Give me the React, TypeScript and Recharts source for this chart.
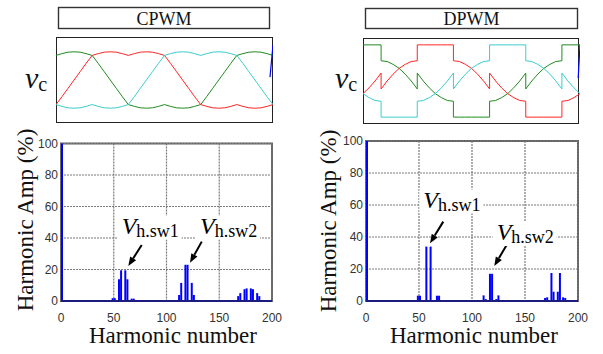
import {
  LineChart,
  Line,
  BarChart,
  Bar,
  XAxis,
  YAxis,
  CartesianGrid,
  ReferenceLine,
  ReferenceDot,
} from "recharts";

const SERIF = "Liberation Serif, DejaVu Serif, serif";
const SANS = "Liberation Sans, Arial, sans-serif";

const RED = "#ff2424";
const GREEN = "#1e8c1e";
const CYAN = "#3ccccc";
const BLUE = "#0000ff";

// modulating signals over one fundamental period (electrical degrees)
const cpwmAngle = [
  0, 10, 20, 30, 40, 50, 60, 70, 80, 90, 100, 110, 120, 130, 140, 150, 160, 170, 180,
  190, 200, 210, 220, 230, 240, 250, 260, 270, 280, 290, 300, 310, 320, 330, 340, 350, 360,
];
const cpwmGreen = [
  0.68, 0.73, 0.77, 0.78, 0.77, 0.73, 0.68, 0.46, 0.23, 0, -0.23, -0.46, -0.68, -0.73, -0.77,
  -0.78, -0.77, -0.73, -0.68, -0.73, -0.77, -0.78, -0.77, -0.73, -0.68, -0.46, -0.23, 0, 0.23,
  0.46, 0.68, 0.73, 0.77, 0.78, 0.77, 0.73, 0.68,
];
const cpwmRed = [
  -0.68, -0.46, -0.23, 0, 0.23, 0.46, 0.68, 0.73, 0.77, 0.78, 0.77, 0.73, 0.68, 0.73, 0.77,
  0.78, 0.77, 0.73, 0.68, 0.46, 0.23, 0, -0.23, -0.46, -0.68, -0.73, -0.77, -0.78, -0.77,
  -0.73, -0.68, -0.73, -0.77, -0.78, -0.77, -0.73, -0.68,
];
const cpwmCyan = [
  -0.68, -0.73, -0.77, -0.78, -0.77, -0.73, -0.68, -0.73, -0.77, -0.78, -0.77, -0.73, -0.68,
  -0.46, -0.23, 0, 0.23, 0.46, 0.68, 0.73, 0.77, 0.78, 0.77, 0.73, 0.68, 0.73, 0.77, 0.78,
  0.77, 0.73, 0.68, 0.46, 0.23, 0, -0.23, -0.46, -0.68,
];

// DPWM: clamped 60 deg segments, repeated angles are the jumps
const dpwmAngle = [
  0, 10, 20, 30, 30, 40, 50, 60, 70, 80, 90, 90, 100, 110, 120, 130, 140, 150, 150, 160, 170,
  180, 190, 200, 210, 210, 220, 230, 240, 250, 260, 270, 270, 280, 290, 300, 310, 320, 330,
  330, 340, 350, 360,
];
const dpwmGreen = [
  1, 1, 1, 1, 0.56, 0.54, 0.46, 0.35, 0.19, 0, -0.22, 0.22, 0, -0.19, -0.35, -0.46, -0.54,
  -0.56, -1, -1, -1, -1, -1, -1, -1, -0.56, -0.54, -0.46, -0.35, -0.19, 0, 0.22, -0.22, 0,
  0.19, 0.35, 0.46, 0.54, 0.56, 1, 1, 1, 1,
];
const dpwmRed = [
  -0.35, -0.19, 0, 0.22, -0.22, 0, 0.19, 0.35, 0.46, 0.54, 0.56, 1, 1, 1, 1, 1, 1, 1, 0.56,
  0.54, 0.46, 0.35, 0.19, 0, -0.22, 0.22, 0, -0.19, -0.35, -0.46, -0.54, -0.56, -1, -1, -1,
  -1, -1, -1, -1, -0.56, -0.54, -0.46, -0.35,
];
const dpwmCyan = [
  -0.35, -0.46, -0.54, -0.56, -1, -1, -1, -1, -1, -1, -1, -0.56, -0.54, -0.46, -0.35, -0.19,
  0, 0.22, -0.22, 0, 0.19, 0.35, 0.46, 0.54, 0.56, 1, 1, 1, 1, 1, 1, 1, 0.56, 0.54, 0.46,
  0.35, 0.19, 0, -0.22, 0.22, 0, -0.19, -0.35,
];

// harmonic spectra, % of fundamental
const cpwmOrder = [
  1, 43, 49, 51, 55, 57, 61, 63, 67, 69, 73, 112, 114, 118, 120, 124, 126, 168, 170, 174, 176,
  180, 182, 186, 188,
];
const cpwmAmp = [
  100, 0.5, 1.8, 1.8, 13.8, 19.5, 19.5, 13.8, 1.5, 1.5, 0.5, 3.8, 11.5, 23, 23, 11.5, 3.8, 3.1,
  5, 7.5, 8, 8, 7.5, 5, 3.1,
];
const dpwmOrder = [
  1, 49, 51, 57, 61, 67, 69, 111, 113, 117, 119, 123, 125, 169, 171, 175, 177, 181, 183, 186,
  188,
];
const dpwmAmp = [
  100, 3.3, 3.3, 34, 34, 3.3, 3.3, 3.5, 1.2, 17, 17, 1.2, 3.5, 1.9, 2.3, 17.5, 5.8, 5.8, 17.5,
  2.3, 1.9,
];

const harmTicks = [0, 50, 100, 150, 200];
const ampTicks = [0, 20, 40, 60, 80, 100];
const waveTicks = [-0.78, -0.39, 0, 0.39, 0.78];

const waveRows = (ang: number[], g: number[], r: number[], c: number[]) =>
  ang.map((a, i) => ({ ang: a, g: g[i], r: r[i], c: c[i] }));
const specRows = (order: number[], amp: number[]) =>
  order.map((h, i) => ({ h, amp: amp[i] }));

type Pt = { x: number; y: number };

function Arrow(p: any) {
  const { x1, y1, x2, y2 } = p;
  const a = Math.atan2(y2 - y1, x2 - x1);
  const bx = x2 - 9 * Math.cos(a);
  const by = y2 - 9 * Math.sin(a);
  const px = -Math.sin(a) * 3.5;
  const py = Math.cos(a) * 3.5;
  return (
    <g>
      <line x1={x1} y1={y1} x2={bx} y2={by} stroke="#000" strokeWidth={2} />
      <polygon points={`${x2},${y2} ${bx + px},${by + py} ${bx - px},${by - py}`} fill="#000" />
    </g>
  );
}

function Note({ cx, cy, sub }: { cx: number; cy: number; sub: string }) {
  return (
    <g>
      <rect x={cx - 4} y={cy - 18} width={64} height={24} fill="#fff" />
      <text x={cx} y={cy} fill="#000" style={{ fontFamily: SERIF }}>
        <tspan fontStyle="italic" fontSize={24}>V</tspan>
        <tspan fontSize={18} dy={3}>{sub}</tspan>
      </text>
    </g>
  );
}

function Waveform({
  rows,
  left,
  top,
  xTicks,
  blue,
}: {
  rows: any[];
  left: number;
  top: number;
  xTicks: number[];
  blue: Pt[];
}) {
  return (
    <div style={{ position: "absolute", left, top }}>
      <LineChart width={217} height={86} data={rows} margin={{ top: 0, right: 0, bottom: 0, left: 0 }}>
        <XAxis
          type="number"
          dataKey="ang"
          domain={[0, 360]}
          orientation="top"
          mirror
          ticks={xTicks}
          tick={false}
          tickSize={3}
          axisLine={false}
          stroke="#222"
          height={10}
        />
        <YAxis
          type="number"
          domain={[-1.19, 1.19]}
          ticks={waveTicks}
          mirror
          tick={false}
          tickSize={3}
          axisLine={false}
          stroke="#222"
          width={10}
        />
        <Line type="linear" dataKey="g" stroke={GREEN} strokeWidth={1} dot={false} activeDot={false} isAnimationActive={false} />
        <Line type="linear" dataKey="r" stroke={RED} strokeWidth={1} dot={false} activeDot={false} isAnimationActive={false} />
        <Line type="linear" dataKey="c" stroke={CYAN} strokeWidth={1} dot={false} activeDot={false} isAnimationActive={false} />
        <ReferenceLine segment={blue} stroke={BLUE} strokeWidth={1.2} />
      </LineChart>
    </div>
  );
}

type NoteDef = { at: Pt; sub: string; tail: Pt; head: Pt };

function Spectrum({
  rows,
  left,
  width,
  marginTop,
  marginRight,
  yWidth,
  notes,
}: {
  rows: any[];
  left: number;
  width: number;
  marginTop: number;
  marginRight: number;
  yWidth: number;
  notes: NoteDef[];
}) {
  const tickStyle = { fontSize: 12, fill: "#333", fontFamily: SANS };
  return (
    <div style={{ position: "absolute", left, top: 130 }}>
      <BarChart
        width={width}
        height={200}
        data={rows}
        margin={{ top: marginTop, right: marginRight, bottom: 0, left: 0 }}
      >
        <CartesianGrid stroke="#7a7a7a" strokeDasharray="2 1" strokeWidth={1.2} />
        <XAxis
          type="number"
          dataKey="h"
          domain={[0, 200]}
          ticks={harmTicks}
          interval={0}
          tickSize={0}
          tickLine={false}
          tickMargin={12}
          tick={tickStyle}
          axisLine={{ stroke: "#1c1c80", strokeWidth: 2 }}
          height={29}
        />
        <YAxis
          type="number"
          domain={[0, 100]}
          ticks={ampTicks}
          interval={0}
          width={yWidth}
          tickSize={0}
          tickLine={false}
          tickMargin={3}
          tick={tickStyle}
          axisLine={false}
        />
        <Bar dataKey="amp" fill={BLUE} barSize={2} isAnimationActive={false} />
        {notes.map((n) => (
          <ReferenceLine
            key={n.sub + "-arrow"}
            segment={[n.tail, n.head]}
            shape={(p: any) => <Arrow {...p} />}
          />
        ))}
        {notes.map((n) => (
          <ReferenceDot
            key={n.sub + "-text"}
            x={n.at.x}
            y={n.at.y}
            r={1}
            shape={(p: any) => <Note cx={p.cx} cy={p.cy} sub={n.sub} />}
          />
        ))}
      </BarChart>
    </div>
  );
}

const cpwmNotes: NoteDef[] = [
  { at: { x: 57.5, y: 42.8 }, sub: "h.sw1", tail: { x: 76.5, y: 35.6 }, head: { x: 63.8, y: 22.2 } },
  { at: { x: 131.8, y: 42.8 }, sub: "h.sw2", tail: { x: 133.4, y: 37.7 }, head: { x: 122.3, y: 24.3 } },
];
const dpwmNotes: NoteDef[] = [
  { at: { x: 54.1, y: 58.4 }, sub: "h.sw1", tail: { x: 72.9, y: 49.6 }, head: { x: 60.4, y: 36.1 } },
  { at: { x: 123.3, y: 38.1 }, sub: "h.sw2", tail: { x: 132.7, y: 35 }, head: { x: 121, y: 21.9 } },
];

function Decor() {
  const serif = { fill: "#111", style: { fontFamily: SERIF } };
  return (
    <svg width={603} height={354} style={{ position: "absolute", left: 0, top: 0 }}>
      <rect x={58.5} y={7.5} width={211} height={21} fill="none" stroke="#333" strokeWidth={1.4} />
      <text x={164} y={25} textAnchor="middle" fontSize={18} {...serif}>CPWM</text>
      <rect x={365.5} y={8.5} width={212} height={20} fill="none" stroke="#333" strokeWidth={1.4} />
      <text x={471.5} y={25} textAnchor="middle" fontSize={18} {...serif}>DPWM</text>

      <rect x={56.5} y={37.5} width={216} height={85} fill="none" stroke="#222" />
      <rect x={363.5} y={38.5} width={215} height={85} fill="none" stroke="#222" />

      <rect x={61} y={143.5} width={211} height={157.5} fill="none" stroke="#606060" strokeWidth={2} />
      <rect x={366} y={141} width={212} height={160} fill="none" stroke="#606060" strokeWidth={2} />

      <text x={25} y={88} {...serif}>
        <tspan fontStyle="italic" fontSize={30}>v</tspan>
        <tspan fontSize={20} dy={3}>c</tspan>
      </text>
      <text x={335} y={88} {...serif}>
        <tspan fontStyle="italic" fontSize={30}>v</tspan>
        <tspan fontSize={20} dy={3}>c</tspan>
      </text>

      <text x={33} y={220} transform="rotate(-90 33 220)" textAnchor="middle" fontSize={23} {...serif}>
        Harmonic Amp (%)
      </text>
      <text x={336} y={221} transform="rotate(-90 336 221)" textAnchor="middle" fontSize={23} {...serif}>
        Harmonic Amp (%)
      </text>
      <text x={173} y={343} textAnchor="middle" fontSize={23} {...serif}>Harmonic number</text>
      <text x={474} y={343} textAnchor="middle" fontSize={23} {...serif}>Harmonic number</text>
    </svg>
  );
}

export default function App() {
  return (
    <div
      style={{
        position: "absolute",
        left: 0,
        top: 0,
        width: 603,
        height: 354,
        background: "#fff",
        overflow: "hidden",
        fontFamily: SERIF,
      }}
    >
      <Decor />
      <Waveform
        rows={waveRows(cpwmAngle, cpwmGreen, cpwmRed, cpwmCyan)}
        left={56}
        top={37}
        xTicks={[36, 145, 253]}
        blue={[{ x: 355, y: 0.08 }, { x: 360, y: 0.97 }]}
      />
      <Waveform
        rows={waveRows(dpwmAngle, dpwmGreen, dpwmRed, dpwmCyan)}
        left={363}
        top={38}
        xTicks={[72, 180, 288]}
        blue={[{ x: 357, y: 0.08 }, { x: 360, y: 1.0 }]}
      />
      <Spectrum
        rows={specRows(cpwmOrder, cpwmAmp)}
        left={0}
        width={290}
        marginTop={13.5}
        marginRight={18}
        yWidth={61}
        notes={cpwmNotes}
      />
      <Spectrum
        rows={specRows(dpwmOrder, dpwmAmp)}
        left={300}
        width={298}
        marginTop={11}
        marginRight={20}
        yWidth={66}
        notes={dpwmNotes}
      />
    </div>
  );
}
